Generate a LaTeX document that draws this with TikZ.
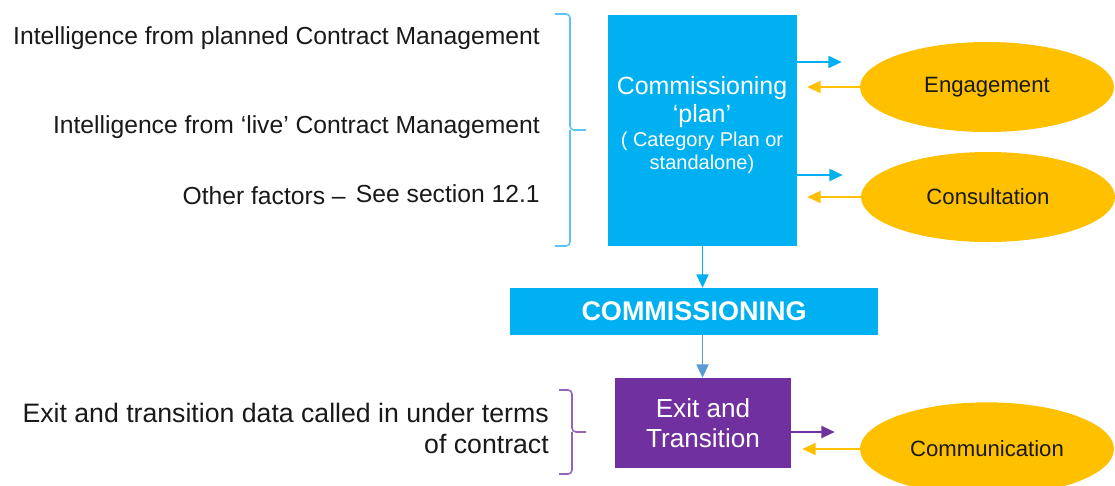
\documentclass[tikz,border=0pt]{standalone}
\usepackage{fontspec}
\setmainfont{Liberation Sans}
\usetikzlibrary{shapes.geometric,arrows.meta}
\definecolor{planblue}{HTML}{00B0F0}
\definecolor{braceblue}{HTML}{5BC5F0}
\definecolor{gold}{HTML}{FFC000}
\definecolor{exitpurple}{HTML}{7030A0}
\definecolor{steel}{HTML}{5B9BD5}

\begin{document}
\begin{tikzpicture}[x=0.75pt,y=-0.75pt,
  box/.style={fill=#1,draw=none,text=white,inner sep=0pt,align=center},
  oval/.style={ellipse,fill=gold,minimum width=190.5pt,minimum height=67.5pt,inner sep=0pt,text=black!90,font=\fontsize{16.6}{19}\selectfont},
  lab/.style={anchor=east,inner sep=0pt,text=black!90,font=\fontsize{18.5}{22}\selectfont},
  brc/.style={line width=1.2pt,rounded corners=3pt},
  tip/.style={-{Triangle[length=10pt,width=9pt]},line width=1.4pt}]
\clip (0,0) rectangle (1115,486);
\node[lab] (t1) at (540,38) {Intelligence from planned Contract Management};
\node[lab] (t2) at (540,127) {Intelligence from `live' Contract Management};
\node[lab] (t3) at (540,194) {See section 12.1};
\node[lab] (t4) at (346,196) {Other factors --};
\node[lab,align=right,font=\fontsize{20}{23.25}\selectfont] (t5) at (549,428) {Exit and transition data called in under terms\\of contract};
\draw[brc,braceblue] (555,14) -- (570,14) -- (570,130) -- (586,130) (570,130) -- (570,246) -- (555,246);
\draw[brc,exitpurple!75] (559,390) -- (572,390) -- (572,432) -- (586,432) (572,432) -- (572,474) -- (559,474);
% boxes
\node[box=planblue,minimum width=141.75pt,minimum height=173.25pt] (plan) at (702.5,130.5) {};
\node[text=white,align=center,font=\fontsize{18.7}{21}\selectfont] (plantxt) at (702,125) {Commissioning\\`plan'\\[-3pt]{\fontsize{15}{16.5}\selectfont ( Category Plan or}\\[-4pt]{\fontsize{15}{16.5}\selectfont standalone)}};
\node[box=planblue,minimum width=276pt,minimum height=35.25pt,font=\fontsize{20.25}{24}\selectfont\bfseries] (bar) at (694,311.5) {COMMISSIONING};
\node[box=exitpurple,minimum width=132pt,minimum height=67.5pt,font=\fontsize{19.6}{22.5}\selectfont] (exit) at (703,423) {Exit and\\Transition};
\node[oval] (eng) at (987,87) {Engagement};
\node[oval] (con) at (988,197) {Consultation};
\node[oval,minimum height=70pt] (com) at (987,449) {Communication};
% arrows
\draw[tip,planblue] (plan.south) -- (plan.south |- bar.north);
\draw[tip,steel] (plan.south |- bar.south) -- (plan.south |- exit.north);
\foreach \n/\y in {eng/62,con/175}{
  \draw[tip,planblue,shorten >=13.5pt] (plan.east |- 0,\y) -- (\n.west |- 0,\y);
  \draw[tip,gold,shorten >=7.5pt] (\n.west) -- (plan.east |- \n.west);
}
\draw[tip,exitpurple,shorten >=18.75pt] (exit.east |- 0,432) -- (com.west |- 0,432);
\draw[tip,gold,shorten >=8.25pt] (com.west) -- (exit.east |- com.west);
\end{tikzpicture}
\end{document}
